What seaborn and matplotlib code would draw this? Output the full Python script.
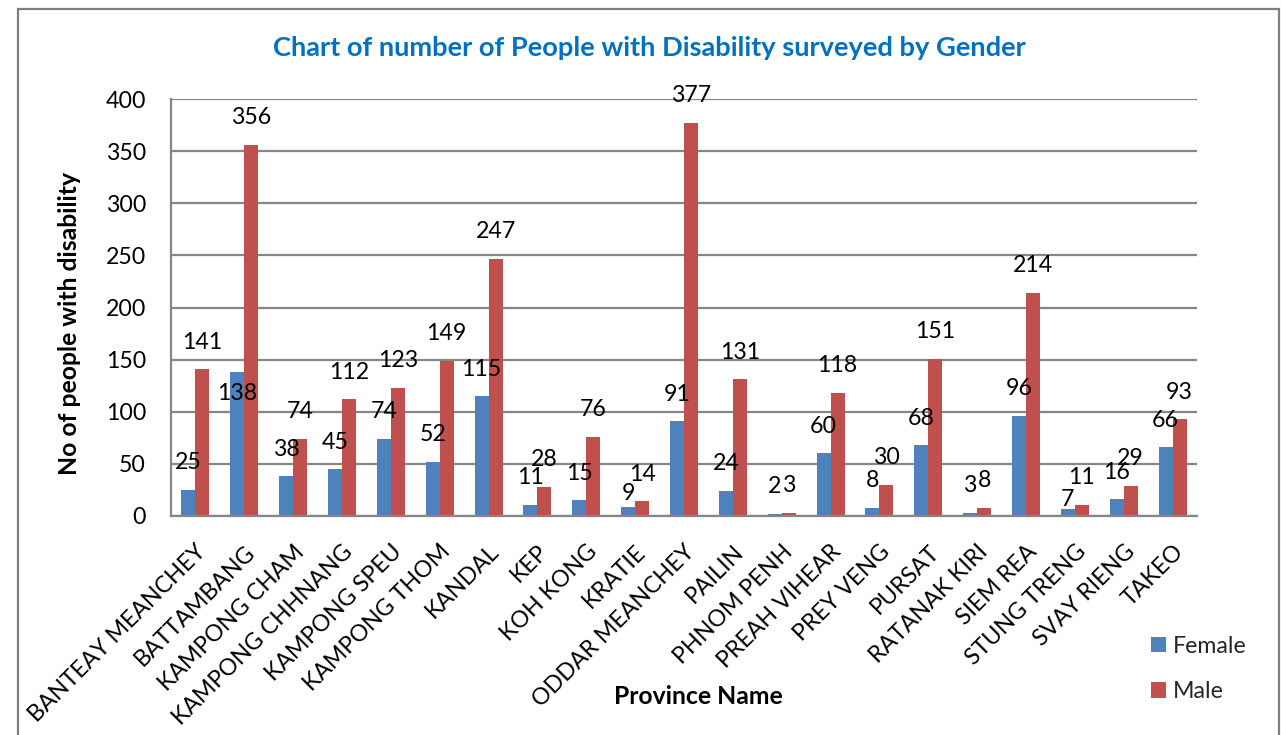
import matplotlib
matplotlib.use("Agg")
import matplotlib.pyplot as plt
from matplotlib.patches import Rectangle, Patch
import seaborn as sns
import pandas as pd

# Survey counts per province
provinces = [
    "BANTEAY MEANCHEY", "BATTAMBANG", "KAMPONG CHAM", "KAMPONG CHHNANG",
    "KAMPONG SPEU", "KAMPONG THOM", "KANDAL", "KEP", "KOH KONG", "KRATIE",
    "ODDAR MEANCHEY", "PAILIN", "PHNOM PENH", "PREAH VIHEAR", "PREY VENG",
    "PURSAT", "RATANAK KIRI", "SIEM REA", "STUNG TRENG", "SVAY RIENG", "TAKEO",
]
female = [25, 138, 38, 45, 74, 52, 115, 11, 15, 9, 91, 24, 2, 60, 8, 68, 3, 96, 7, 16, 66]
male = [141, 356, 74, 112, 123, 149, 247, 28, 76, 14, 377, 131, 3, 118, 30, 151, 8, 214, 11, 29, 93]
genders = ["Female", "Male"]
y_ticks = [0, 50, 100, 150, 200, 250, 300, 350, 400]

title = "Chart of number of People with Disability surveyed by Gender"
x_title = "Province Name"
y_title = "No of people with disability"

df = pd.DataFrame({
    "Province": provinces * 2,
    "Gender": ["Female"] * len(provinces) + ["Male"] * len(provinces),
    "Count": female + male,
})

# ---- styling ----
sns.set_style("white")
plt.rcParams["font.family"] = ["Lato", "DejaVu Sans"]
colors = {"Female": "#4F81BD", "Male": "#C0504D"}
grid_col = "#868686"
fs = 16.7
fs_axis = 17.8
px = 72 / 100  # points per pixel at dpi 100

# label offsets (pixels above the bar top); a few labels sit lower
default_offset = 27
label_offset = {("Female", "BATTAMBANG"): -21,
                ("Female", "KRATIE"): 13,
                ("Female", "STUNG TRENG"): 9}

fig = plt.figure(figsize=(12.81, 7.35), dpi=100)
ax = fig.add_axes([171 / 1281, 1 - 516 / 735, 1026 / 1281, 417 / 735])

sns.barplot(data=df, x="Province", y="Count", hue="Gender", order=provinces,
            hue_order=genders, palette=colors, width=0.573, saturation=1,
            linewidth=0, ax=ax, legend=False, errorbar=None)

ax.set_ylim(0, 400)
ax.set_yticks(y_ticks)
ax.yaxis.grid(True, color=grid_col, linewidth=1.6)
ax.set_axisbelow(True)
for side in ("top", "right"):
    ax.spines[side].set_visible(False)
for side in ("left", "bottom"):
    ax.spines[side].set_color(grid_col)
    ax.spines[side].set_linewidth(1.6)

ax.tick_params(axis="y", length=0, pad=18, labelsize=fs, labelcolor="black")
ax.tick_params(axis="x", length=0, pad=18, labelsize=fs, labelcolor="black")
for lab in ax.get_xticklabels():
    lab.set_rotation(45)
    lab.set_ha("right")
    lab.set_va("top")
    lab.set_rotation_mode("anchor")

# value labels above each bar
for gender, cont in zip(genders, ax.containers):
    for prov, bar, val in zip(provinces, cont.patches, cont.datavalues):
        off = label_offset.get((gender, prov), default_offset)
        ax.annotate(f"{int(val)}", (bar.get_x() + bar.get_width() / 2, bar.get_height()),
                    xytext=(0, off * px), textcoords="offset points",
                    ha="center", va="center", fontsize=fs, color="black")

ax.set_xlabel(x_title, fontsize=fs_axis, fontweight="bold", color="black")
ax.set_ylabel(y_title, fontsize=fs_axis, fontweight="bold", color="black")
ax.xaxis.set_label_coords((698 - 171) / 1026, (516 - 697) / 417)
ax.xaxis.label.set_va("center")
ax.yaxis.set_label_coords((70 - 171) / 1026, (516 - 323.5) / 417)
ax.yaxis.label.set_va("center")

fig.text(649.5 / 1281, 1 - 48 / 735, title, ha="center", va="center",
         fontsize=19.6, fontweight="bold", color="#0070C0")

handles = [Patch(facecolor=colors[g], edgecolor="none") for g in genders]
fig.legend(handles, genders, loc="center left",
           bbox_to_anchor=(1151 / 1281, 1 - 669 / 735), frameon=False,
           fontsize=fs, handlelength=0.65, handleheight=0.65,
           handletextpad=0.3, labelspacing=1.05, borderpad=0, borderaxespad=0)

# chart frame
fig.patches.append(Rectangle((18 / 1281, -0.05), (1279 - 18) / 1281, 1.05 - 9 / 735,
                             transform=fig.transFigure, fill=False,
                             edgecolor="#7F7F7F", linewidth=1.6))

fig.savefig("out.png", dpi=100)
